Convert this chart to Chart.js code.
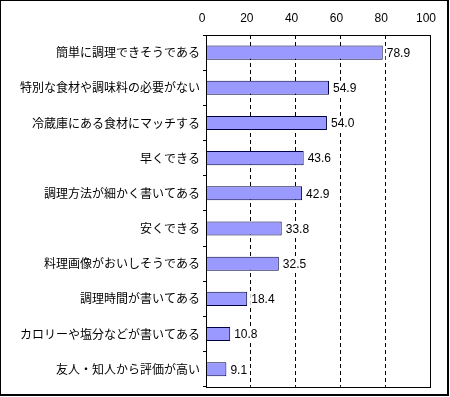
<!DOCTYPE html>
<html>
<head>
<meta charset="utf-8">
<script src="https://cdn.jsdelivr.net/npm/chart.js@4/dist/chart.umd.min.js"></script>
<style>
html,body{margin:0;padding:0;background:#fff;}
#wrap{width:450px;height:397px;position:relative;}
</style>
</head>
<body>
<div id="wrap"><canvas id="c" width="450" height="397"></canvas></div>
<script>
const categories = [
  "簡単に調理できそうである",
  "特別な食材や調味料の必要がない",
  "冷蔵庫にある食材にマッチする",
  "早くできる",
  "調理方法が細かく書いてある",
  "安くできる",
  "料理画像がおいしそうである",
  "調理時間が書いてある",
  "カロリーや塩分などが書いてある",
  "友人・知人から評価が高い"
];
const values = [78.9, 54.9, 54.0, 43.6, 42.9, 33.8, 32.5, 18.4, 10.8, 9.1];
const axisMin = 0, axisMax = 100, axisStep = 20;

const jpFont = "'Noto Sans CJK JP', sans-serif";
const numFont = "'Liberation Sans', Arial, sans-serif";

const framePlugin = {
  id: 'frame',
  afterDraw(chart) {
    const ctx = chart.ctx, a = chart.chartArea;
    ctx.save();
    ctx.strokeStyle = '#000';
    ctx.lineWidth = 1;
    ctx.strokeRect(Math.round(a.left) + 0.5, Math.round(a.top) + 0.5,
                   Math.round(a.right - a.left), Math.round(a.bottom - a.top));
    // outer border
    ctx.fillStyle = '#000';
    ctx.fillRect(0, 0, 449, 1);
    ctx.fillRect(0, 0, 1, 396);
    ctx.fillRect(447, 0, 2, 396);
    ctx.fillRect(0, 394, 449, 2);
    // value labels with white background
    const meta = chart.getDatasetMeta(0);
    ctx.font = "12px " + numFont;
    ctx.textBaseline = 'middle';
    ctx.textAlign = 'left';
    meta.data.forEach((bar, i) => {
      const txt = values[i].toFixed(1);
      const w = ctx.measureText(txt).width;
      const x = bar.x + 4;
      ctx.fillStyle = '#fff';
      ctx.fillRect(x - 1, bar.y - 7, w + 2, 15);
      ctx.fillStyle = '#000';
      ctx.fillText(txt, x, bar.y + 1);
    });
    ctx.restore();
  }
};

new Chart(document.getElementById('c'), {
  type: 'bar',
  data: {
    labels: categories,
    datasets: [{
      data: values,
      backgroundColor: '#9999FF',
      borderColor: '#000040',
      borderWidth: 1,
      categoryPercentage: 1,
      barPercentage: 0.4
    }]
  },
  options: {
    indexAxis: 'y',
    responsive: false,
    animation: false,
    devicePixelRatio: 1,
    layout: { padding: { left: 0, right: 20, top: 0, bottom: 6 } },
    plugins: { legend: { display: false }, tooltip: { enabled: false } },
    scales: {
      x: {
        position: 'top',
        min: axisMin, max: axisMax,
        afterFit(s) { s.height = 35; },
        ticks: { stepSize: axisStep, color: '#000', padding: 9, labelOffset: -4, font: { family: numFont, size: 12 } },
        grid: { color: '#000', drawTicks: false, lineWidth: 1 },
        border: { display: false, dash: [4, 3] }
      },
      y: {
        afterFit(s) { s.width = 206; },
        ticks: { color: '#000', padding: 3, font: { family: jpFont, size: 12 } },
        grid: { offset: true, drawOnChartArea: false, drawTicks: true, tickLength: 3, color: '#000' },
        border: { display: false }
      }
    }
  },
  plugins: [framePlugin]
});
</script>
</body>
</html>
